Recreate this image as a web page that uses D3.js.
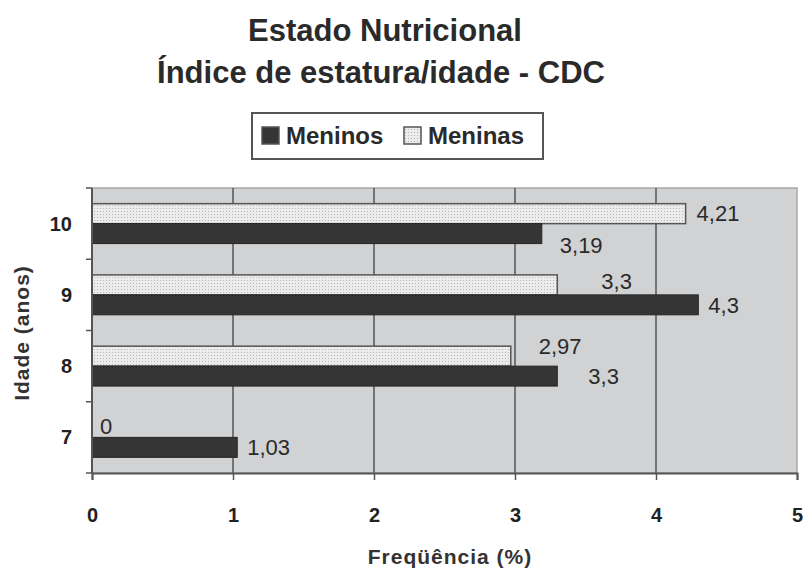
<!DOCTYPE html>
<html>
<head>
<meta charset="utf-8">
<script src="https://cdn.jsdelivr.net/npm/d3@7"></script>
<style>
    body { margin: 0; background: #fff; }
    text { font-family: "Liberation Sans", Arial, sans-serif; }
</style>
</head>
<body>
<div id="chart"></div>
<script>
// Chart data
const ages = ['10', '9', '8', '7'];
const meninos = [3.19, 4.3, 3.3, 1.03];
const meninas = [4.21, 3.3, 2.97, 0];
const xTicks = [0, 1, 2, 3, 4, 5];
const seriesNames = ['Meninos', 'Meninas'];

// label nudges (layout only), like the hand-moved labels in the original
const meninosNudge = [[18, 12], [10, 0], [31, 0], [10, 0]];
const meninasNudge = [[11, 0], [44, -4], [28, -10], [8, -1]];

const width = 807, height = 571;
const plotLeft = 92, plotRight = 797, plotTop = 188, plotBottom = 473;

const svg = d3.select('#chart')
    .append('svg')
    .attr('width', width)
    .attr('height', height);

// dotted fill for Meninas
const defs = svg.append('defs');
const pat = defs.append('pattern')
    .attr('id', 'dots')
    .attr('width', 3)
    .attr('height', 3)
    .attr('patternUnits', 'userSpaceOnUse');
pat.append('rect').attr('width', 3).attr('height', 3).attr('fill', '#ececec');
pat.append('rect').attr('x', 1).attr('y', 1).attr('width', 1).attr('height', 1).attr('fill', '#b4b4b4');

const x = d3.scaleLinear()
    .domain([0, 5])
    .range([plotLeft, plotRight]);

const y = d3.scaleBand()
    .domain(ages)
    .range([plotTop, plotBottom])
    .paddingInner(0.44)
    .paddingOuter(0.22);

const sub = d3.scaleBand()
    .domain(['Meninas', 'Meninos'])
    .range([0, y.bandwidth()]);

// Plot background
svg.append('rect')
    .attr('x', x(0))
    .attr('y', plotTop)
    .attr('width', x(5) - x(0))
    .attr('height', plotBottom - plotTop)
    .attr('fill', '#d1d2d4')
    .attr('stroke', '#a8a8a8')
    .attr('stroke-width', 1.5);

// Vertical gridlines
svg.selectAll('.grid')
    .data(xTicks.slice(1, -1))
    .enter()
    .append('line')
    .attr('x1', d => x(d))
    .attr('x2', d => x(d))
    .attr('y1', plotTop)
    .attr('y2', plotBottom)
    .attr('stroke', '#555')
    .attr('stroke-width', 1.5);

// Bars
const rows = ages.map((a, i) => ({ age: a, meninos: meninos[i], meninas: meninas[i], i: i }));

svg.selectAll('.bar-meninas')
    .data(rows)
    .enter()
    .append('rect')
    .attr('x', x(0))
    .attr('y', d => y(d.age) + sub('Meninas'))
    .attr('width', d => x(d.meninas) - x(0))
    .attr('height', sub.bandwidth())
    .attr('fill', 'url(#dots)')
    .attr('stroke', d => d.meninas > 0 ? '#555' : 'none')
    .attr('stroke-width', 1.5);

svg.selectAll('.bar-meninos')
    .data(rows)
    .enter()
    .append('rect')
    .attr('x', x(0))
    .attr('y', d => y(d.age) + sub('Meninos'))
    .attr('width', d => x(d.meninos) - x(0))
    .attr('height', sub.bandwidth())
    .attr('fill', '#353535')
    .attr('stroke', '#252525')
    .attr('stroke-width', 1);

const fmt = v => String(v).replace('.', ',');

// Value labels
svg.selectAll('.lbl-meninas')
    .data(rows)
    .enter()
    .append('text')
    .attr('x', d => x(d.meninas) + meninasNudge[d.i][0])
    .attr('y', d => y(d.age) + sub('Meninas') + sub.bandwidth() / 2 + meninasNudge[d.i][1])
    .attr('dy', '0.35em')
    .style('font-size', '22px')
    .attr('fill', '#2a2a2a')
    .text(d => fmt(d.meninas));

svg.selectAll('.lbl-meninos')
    .data(rows)
    .enter()
    .append('text')
    .attr('x', d => x(d.meninos) + meninosNudge[d.i][0])
    .attr('y', d => y(d.age) + sub('Meninos') + sub.bandwidth() / 2 + meninosNudge[d.i][1])
    .attr('dy', '0.35em')
    .style('font-size', '22px')
    .attr('fill', '#2a2a2a')
    .text(d => fmt(d.meninos));

// X axis
const xAxis = svg.append('g')
    .attr('transform', `translate(0,${plotBottom})`)
    .call(d3.axisBottom(x).tickValues(xTicks).tickSize(7).tickPadding(28).tickFormat(d3.format('d')));
xAxis.select('.domain').attr('stroke', '#555').attr('stroke-width', 2);
xAxis.selectAll('.tick line').attr('stroke', '#555').attr('stroke-width', 1.5);
xAxis.selectAll('text')
    .style('font-size', '20px')
    .style('font-weight', 'bold')
    .style('font-family', '"Liberation Sans", Arial, sans-serif')
    .attr('fill', '#222');

// Y axis: ticks at band boundaries
const yBounds = d3.range(ages.length + 1).map(i => plotTop + i * y.step());
svg.append('line')
    .attr('x1', x(0)).attr('x2', x(0))
    .attr('y1', plotTop).attr('y2', plotBottom)
    .attr('stroke', '#555').attr('stroke-width', 2);
svg.selectAll('.ytick')
    .data(yBounds)
    .enter()
    .append('line')
    .attr('x1', x(0) - 6).attr('x2', x(0))
    .attr('y1', d => d).attr('y2', d => d)
    .attr('stroke', '#555').attr('stroke-width', 1.5);

svg.selectAll('.ylabel')
    .data(ages)
    .enter()
    .append('text')
    .attr('x', 72)
    .attr('y', d => y(d) + y.bandwidth() / 2)
    .attr('dy', '0.35em')
    .attr('text-anchor', 'end')
    .style('font-size', '20px')
    .style('font-weight', 'bold')
    .attr('fill', '#222')
    .text(d => d);

// Axis titles
svg.append('text')
    .attr('x', 450)
    .attr('y', 557)
    .attr('dy', '0.35em')
    .attr('text-anchor', 'middle')
    .style('font-size', '21px')
    .style('font-weight', 'bold')
    .style('letter-spacing', '1px')
    .attr('fill', '#333')
    .text('Freqüência (%)');

svg.append('text')
    .attr('transform', 'translate(22,333) rotate(-90)')
    .attr('dy', '0.35em')
    .attr('text-anchor', 'middle')
    .style('font-size', '21px')
    .style('font-weight', 'bold')
    .style('letter-spacing', '1px')
    .attr('fill', '#333')
    .text('Idade (anos)');

// Title
svg.append('text')
    .attr('x', 385).attr('y', 30).attr('dy', '0.35em')
    .attr('text-anchor', 'middle')
    .style('font-size', '31px').style('font-weight', 'bold')
    .attr('fill', '#2a2a2a')
    .text('Estado Nutricional');
svg.append('text')
    .attr('x', 381).attr('y', 72).attr('dy', '0.35em')
    .attr('text-anchor', 'middle')
    .style('font-size', '31px').style('font-weight', 'bold')
    .attr('fill', '#2a2a2a')
    .text('Índice de estatura/idade - CDC');

// Legend
const legend = svg.append('g').attr('transform', 'translate(252,113)');
legend.append('rect')
    .attr('width', 291).attr('height', 46)
    .attr('fill', '#fff')
    .attr('stroke', '#555').attr('stroke-width', 2);
const legendX = [10, 152];
const legendFill = ['#353535', 'url(#dots)'];
const items = legend.selectAll('.item')
    .data(seriesNames)
    .enter()
    .append('g')
    .attr('transform', (d, i) => `translate(${legendX[i]},0)`);
items.append('rect')
    .attr('x', 0).attr('y', 14)
    .attr('width', 17).attr('height', 17)
    .attr('fill', (d, i) => legendFill[i])
    .attr('stroke', '#555').attr('stroke-width', 1.5);
items.append('text')
    .attr('x', 24).attr('y', 23).attr('dy', '0.35em')
    .style('font-size', '24px').style('font-weight', 'bold')
    .attr('fill', '#2a2a2a')
    .text(d => d);
</script>
</body>
</html>
